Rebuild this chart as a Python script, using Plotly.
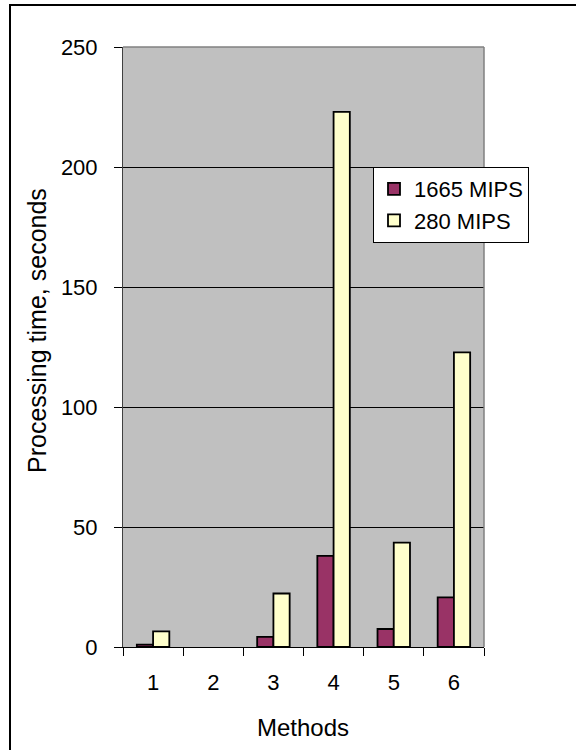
import plotly.graph_objects as go

# Processing time per method on two machines
methods = ["1", "2", "3", "4", "5", "6"]
time_1665 = [1.0, 0, 4.2, 38, 7.5, 20.7]
time_280 = [6.5, 0, 22.3, 223, 43.5, 122.8]
y_ticks = [0, 50, 100, 150, 200, 250]

FONT = "Arial, Liberation Sans, sans-serif"


def outline_widths(values, w=1.8):
    # no outline for empty (zero-height) bars
    return [w if v > 0 else 0 for v in values]


fig = go.Figure()
fig.add_trace(go.Bar(
    x=methods, y=time_1665, name="1665 MIPS",
    marker=dict(color="#993366",
                line=dict(color="black", width=outline_widths(time_1665))),
))
fig.add_trace(go.Bar(
    x=methods, y=time_280, name="280 MIPS",
    marker=dict(color="#FFFFCC",
                line=dict(color="black", width=outline_widths(time_280))),
))

L, R, T, B = 123, 92, 47, 103
W, H = 576, 750
pw, ph = W - L - R, H - T - B

fig.update_layout(
    width=W, height=H,
    margin=dict(l=L, r=R, t=T, b=B, pad=0),
    paper_bgcolor="white",
    plot_bgcolor="#C0C0C0",
    barmode="group",
    bargap=0.46,
    bargroupgap=0,
    font=dict(family=FONT, size=22, color="black"),
    showlegend=True,
    legend=dict(
        x=(373 - L) / pw, y=(647 - 167) / ph,
        xanchor="left", yanchor="top",
        bgcolor="white", bordercolor="black", borderwidth=1,
        font=dict(family=FONT, size=22, color="black"),
        itemwidth=30,
        tracegroupgap=0,
    ),
    xaxis=dict(
        type="category",
        range=[-0.5, 5.5],
        showline=True, linecolor="black", linewidth=1,
        ticks="outside", ticklen=8, tickcolor="black", tickwidth=1,
        tickson="boundaries",
        ticklabelstandoff=16,
        showgrid=False, zeroline=False,
    ),
    yaxis=dict(
        range=[0, 250],
        tickvals=y_ticks,
        showline=True, linecolor="#404040", linewidth=1,
        ticks="outside", ticklen=8, tickcolor="black", tickwidth=1,
        ticklabelstandoff=12,
        showgrid=True, gridcolor="black", gridwidth=1,
        zeroline=False,
    ),
)

# axis titles
fig.add_annotation(text="Methods", xref="paper", yref="paper",
                   x=(303 - L) / pw, y=(647 - 727) / ph,
                   xanchor="center", yanchor="middle", showarrow=False,
                   font=dict(family=FONT, size=24, color="black"))
fig.add_annotation(text="Processing time, seconds", xref="paper", yref="paper",
                   x=(37 - L) / pw, y=(647 - 331) / ph, textangle=-90,
                   xanchor="center", yanchor="middle", showarrow=False,
                   font=dict(family=FONT, size=25, color="black"))

# grey frame on the top and right sides of the plot area
fig.add_shape(type="line", xref="paper", yref="paper", x0=0, x1=1, y0=1, y1=1,
              line=dict(color="#808080", width=1.5), layer="above")
fig.add_shape(type="line", xref="paper", yref="paper", x0=1, x1=1, y0=0, y1=1,
              line=dict(color="#808080", width=1.5), layer="above")

# outer chart border (top and left edges visible)
fig.add_shape(type="rect", xref="paper", yref="paper",
              x0=(10 - L) / pw, x1=2.0, y0=-2.0, y1=(647 - 5) / ph,
              line=dict(color="black", width=2), fillcolor="rgba(0,0,0,0)",
              layer="above")

fig.write_html("out.html")
